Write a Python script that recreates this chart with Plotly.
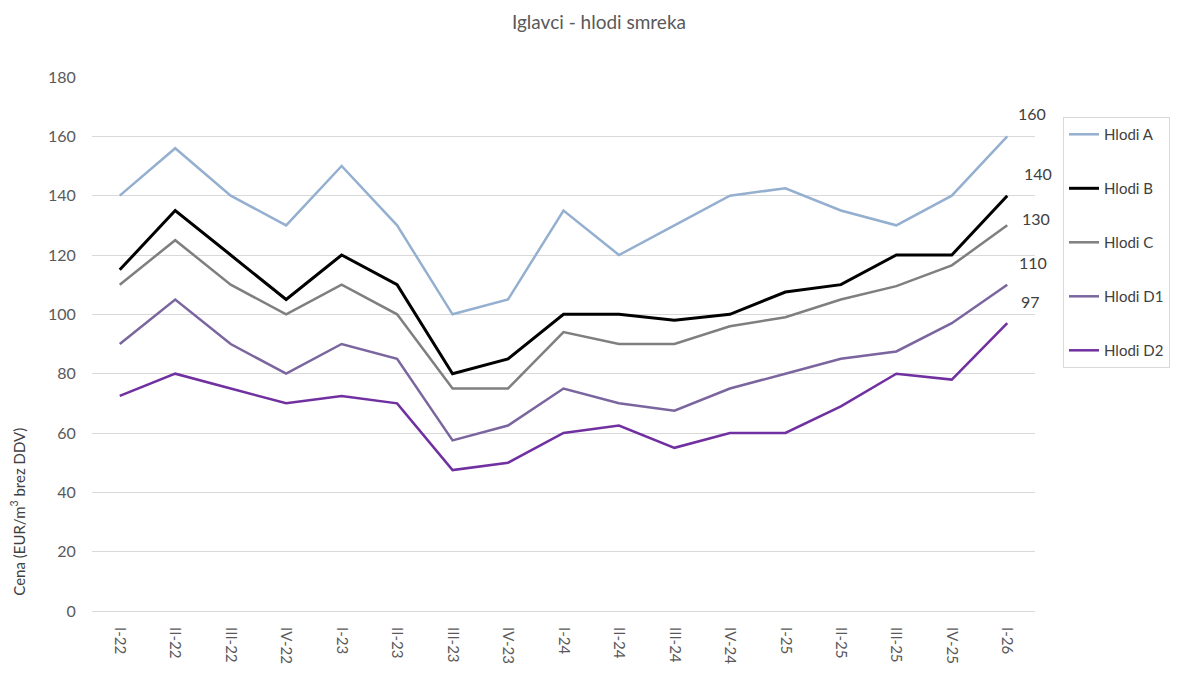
import plotly.graph_objects as go

categories = ["I-22", "II-22", "III-22", "IV-22", "I-23", "II-23", "III-23", "IV-23",
              "I-24", "II-24", "III-24", "IV-24", "I-25", "II-25", "III-25", "IV-25", "I-26"]
hlodi_a = [140, 156, 140, 130, 150, 130, 100, 105, 135, 120, 130, 140, 142.5, 135, 130, 140, 160]
hlodi_b = [115, 135, 120, 105, 120, 110, 80, 85, 100, 100, 98, 100, 107.5, 110, 120, 120, 140]
hlodi_c = [110, 125, 110, 100, 110, 100, 75, 75, 94, 90, 90, 96, 99, 105, 109.5, 116.5, 130]
hlodi_d1 = [90, 105, 90, 80, 90, 85, 57.5, 62.5, 75, 70, 67.5, 75, 80, 85, 87.5, 97, 110]
hlodi_d2 = [72.5, 80, 75, 70, 72.5, 70, 47.5, 50, 60, 62.5, 55, 60, 60, 69, 80, 78, 97]
y_ticks = [0, 20, 40, 60, 80, 100, 120, 140, 160, 180]

series = [
    ("Hlodi A", hlodi_a, "#94AFCF", 2.5, (25, 23)),
    ("Hlodi B", hlodi_b, "#000000", 3, (31, 22)),
    ("Hlodi C", hlodi_c, "#7F7F7F", 2.5, (29, 7)),
    ("Hlodi D1", hlodi_d1, "#7B659F", 2.5, (26, 22)),
    ("Hlodi D2", hlodi_d2, "#7030A0", 2.5, (23, 22)),
]

font = "Lato, 'Open Sans', sans-serif"
fig = go.Figure()
for name, vals, color, w, _ in series:
    fig.add_trace(go.Scatter(x=categories, y=vals, name=name, mode="lines",
                             line=dict(color=color, width=w), legendgroup=name))

for name, vals, color, w, (dx, dy) in series:
    fig.add_annotation(x=categories[-1], y=vals[-1], text=str(int(round(vals[-1]))),
                       showarrow=False, xshift=dx, yshift=dy,
                       font=dict(size=16, color="#404040", family=font))

fig.add_annotation(xref="paper", yref="paper", x=-0.079, y=0.185,
                   xanchor="center", yanchor="middle",
                   text="Cena (EUR/m<sup>3</sup> brez DDV)", textangle=-90,
                   showarrow=False, font=dict(size=15, color="#404040", family=font))

# page body has an 8px default margin, so the figure is sized/offset accordingly
fig.update_layout(
    width=1192, height=667,
    paper_bgcolor="white", plot_bgcolor="white",
    margin=dict(l=84, r=165, t=69, b=64, autoexpand=False),
    title=dict(text="Iglavci - hlodi smreka", x=0.4958, xanchor="center",
               xref="container", y=1 - 14 / 667, yanchor="middle",
               font=dict(size=19, color="#595959", family=font)),
    font=dict(family=font, color="#595959"),
    showlegend=True,
    legend=dict(x=1.0297, y=0.925, xanchor="left", yanchor="top",
                bordercolor="#D9D9D9", borderwidth=1, tracegroupgap=31.5,
                font=dict(size=15, color="#404040", family=font),
                itemwidth=30),
    xaxis=dict(type="category", range=[-0.5, 16.5], tickangle=90, showgrid=False,
               showline=False, automargin=False,
               tickfont=dict(size=15, color="#595959"), ticks="outside",
               ticklen=12, tickcolor="rgba(0,0,0,0)"),
    yaxis=dict(range=[0, 180], tickvals=y_ticks, showgrid=True, gridcolor="#D9D9D9",
               gridwidth=1, zeroline=True, zerolinecolor="#D9D9D9", zerolinewidth=1,
               automargin=False,
               tickfont=dict(size=16, color="#595959"), ticks="outside", ticklen=12,
               tickcolor="rgba(0,0,0,0)"),
)

fig.write_html("out.html")
